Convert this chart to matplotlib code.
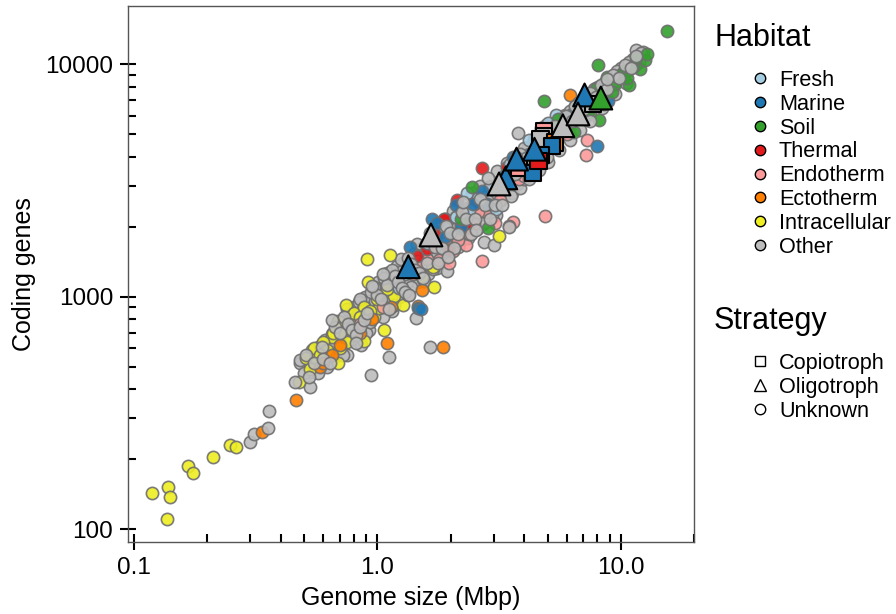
import matplotlib
matplotlib.use("Agg")
import matplotlib.pyplot as plt
from matplotlib.lines import Line2D

plt.rcParams["font.family"] = ["Liberation Sans", "DejaVu Sans"]

# === Data: genome size (Mbp) and coding genes, by habitat ===
intra_size = [0.119, 0.138, 0.141, 0.137, 0.166, 0.174, 0.211, 0.247, 0.263, 0.476,
              0.51, 0.557, 0.628, 0.65, 0.69, 0.687, 0.745, 0.83, 0.885, 0.91,
              0.916, 0.97, 1.02, 1.06, 1.13, 1.17, 1.28, 1.53, 1.70, 1.71,
              3.15, 0.55, 0.60, 0.72, 0.78, 0.80, 0.88, 0.62, 0.66, 0.75,
              0.58, 0.85, 1.00, 1.10, 0.93, 0.53, 0.70]
intra_genes = [143, 152, 137, 111, 187, 174, 204, 230, 225, 430,
               543, 543, 570, 671, 785, 516, 920, 780, 646, 1456,
               1150, 818, 891, 718, 1510, 1010, 917, 1217, 1336, 1097,
               1830, 600, 640, 700, 720, 850, 900, 590, 700, 640,
               560, 820, 980, 1080, 870, 490, 600]

ecto_size = [0.335, 0.465, 0.58, 1.09, 1.86, 1.52, 1.14, 1.47, 6.2, 8.5,
             0.70, 0.65, 0.85, 0.95, 0.60]
ecto_genes = [261, 358, 498, 632, 607, 1068, 899, 910, 7360, 6730,
              620, 560, 700, 800, 520]

endo_size = [2.70, 4.9, 3.6, 3.47, 2.31, 2.05, 3.03, 2.38, 1.79, 1.97,
             7.17, 7.27, 1.05, 1.33, 1.5, 1.7, 2.15, 2.5, 2.8, 3.2,
             3.8, 4.3, 5.2, 6.0, 1.2, 0.85, 1.4, 1.6, 1.9, 2.6,
             3.0, 4.0]
endo_genes = [1425, 2220, 2090, 2010, 1667, 1570, 2080, 1860, 1436, 1390,
              4060, 4710, 900, 1015, 1350, 1650, 1750, 2050, 2300, 2600,
              3200, 3600, 4400, 5000, 1120, 760, 1250, 1450, 1700, 2300,
              2450, 3300]

thermal_size = [1.90, 2.34, 2.13, 1.97, 2.70, 1.88, 4.92, 1.6, 2.5, 1.45,
                2.9, 3.4, 1.75, 2.2]
thermal_genes = [2148, 1977, 2600, 1580, 3555, 2165, 5470, 1600, 2500, 1500,
                 3000, 3600, 1900, 2300]

fresh_size = [1.14, 1.23, 2.34, 3.07, 2.38, 5.40, 6.2, 1.9, 2.6, 3.5,
              4.2, 4.7, 5.0, 2.1, 1.6, 2.9, 3.9, 1.3, 4.5]
fresh_genes = [1217, 1087, 2800, 2380, 2350, 6040, 5900, 1980, 2650, 3700,
               4700, 5300, 5600, 2200, 1700, 2950, 3500, 1250, 4000]

marine_size = [1.36, 1.68, 1.75, 2.10, 2.48, 2.83, 1.47, 1.51, 8.0, 8.9,
               3.9, 4.6, 2.2, 3.3, 4.2, 5.5, 6.3, 7.2, 2.7, 3.6,
               1.9, 5.9]
marine_genes = [1636, 2148, 2080, 2477, 2490, 2510, 890, 883, 4450, 6950,
                3550, 4950, 2000, 3300, 4100, 5200, 6100, 6000, 2850, 4000,
                1800, 5800]

soil_size = [15.5, 8.08, 4.85, 2.86, 2.45, 10.8, 12.0, 8.1, 7.5, 9.5,
             10.3, 11.2, 12.6, 8.8, 9.9, 7.9, 6.9, 6.0, 5.5, 7.3,
             10.6, 12.8, 11.6, 9.2, 8.4, 6.4, 2.2, 3.5]
soil_genes = [13900, 9950, 6950, 1980, 2967, 8130, 9560, 5750, 6150, 8200,
              9300, 9700, 10400, 8800, 9000, 7800, 6600, 5400, 5800, 6300,
              8700, 11000, 10600, 7600, 7000, 5100, 2150, 3300]

other_size = [0.30, 0.31, 0.354, 0.357, 0.53, 0.526, 0.53, 0.483, 0.59, 0.94,
              1.12, 1.64, 1.44, 1.93, 3.78, 2.73, 3.01, 3.47, 11.5, 12.3,
              0.46, 0.48, 0.50, 0.51, 0.53, 0.54, 0.55, 0.57, 0.58, 0.60,
              0.61, 0.62, 0.64, 0.65, 0.66, 0.67, 0.68, 0.69, 0.70, 0.71,
              0.72, 0.73, 0.74, 0.75, 0.76, 0.77, 0.78, 0.79, 0.80, 0.81,
              0.82, 0.83, 0.84, 0.85, 0.86, 0.87, 0.88, 0.89, 0.90, 0.91,
              0.92, 0.93, 0.94, 0.95, 0.96, 0.97, 0.98, 0.99, 1.00,
              1.01, 1.02, 1.03, 1.04, 1.05, 1.06, 1.07, 1.08, 1.09, 1.10,
              1.11, 1.12, 1.13, 1.14, 1.15, 1.16, 1.17, 1.18, 1.19, 1.20,
              1.22, 1.23, 1.24, 1.26, 1.27, 1.28, 1.30, 1.31, 1.32, 1.34,
              1.35, 1.37, 1.38, 1.40, 1.42, 1.43, 1.45, 1.46, 1.48,
              1.50, 1.52, 1.54, 1.56, 1.58, 1.60, 1.62, 1.64, 1.66, 1.68,
              1.70, 1.72, 1.74, 1.76, 1.78, 1.80, 1.82, 1.84, 1.87, 1.89,
              1.91, 1.93, 1.96, 1.98, 2.00, 2.03, 2.06, 2.08, 2.11, 2.14,
              2.17, 2.20,
              2.23, 2.26, 2.29, 2.32, 2.35, 2.38, 2.42, 2.45, 2.48, 2.52,
              2.56, 2.60, 2.64, 2.68, 2.72, 2.76, 2.80, 2.85, 2.90, 2.94,
              2.98, 3.03, 3.08, 3.12, 3.17, 3.22,
              3.27, 3.32, 3.38, 3.44, 3.50, 3.56, 3.62, 3.68, 3.74, 3.80,
              3.87, 3.94, 4.01, 4.08, 4.15, 4.22, 4.30, 4.38, 4.46, 4.54,
              4.62, 4.70, 4.79, 4.88, 4.97,
              5.06, 5.15, 5.25, 5.35, 5.45, 5.55, 5.65, 5.76, 5.87, 5.98,
              6.09, 6.20, 6.32, 6.44, 6.56, 6.68, 6.80, 6.93, 7.06, 7.19,
              7.32, 7.46, 7.60, 7.74, 7.88, 8.03,
              8.18, 8.33, 8.49, 8.65, 8.81, 8.97, 9.14, 9.31, 9.48, 9.66,
              9.84, 10.0, 10.2, 10.4, 10.6, 10.8, 11.0, 11.2, 11.4, 11.6,
              11.9, 12.1,
              1.05, 1.15, 1.25, 1.35, 1.45, 1.55, 1.65, 1.75, 1.85, 1.95,
              2.05, 2.15, 2.25, 2.35, 2.45, 2.55, 2.65, 2.75, 2.85, 2.95,
              3.10, 3.25, 3.40, 3.55, 3.70, 3.85, 4.00, 4.20, 4.40, 4.60,
              4.80, 5.00, 5.30, 5.60, 5.90, 6.20, 6.50, 6.80, 7.10, 7.50,
              7.90, 8.40, 8.80, 9.50, 10.5, 0.65, 0.75, 0.85, 0.95, 0.62,
              0.72, 0.82, 0.92]
other_genes = [237, 256, 272, 322, 408, 451, 473, 533, 607, 459,
               548, 607, 811, 1290, 5070, 1710, 1670, 2000, 11480, 11300,
               430, 520, 470, 560, 500, 590, 520, 470, 610, 540,
               650, 580, 520, 690, 600, 740, 640, 560, 700, 780,
               620, 820, 690, 560, 760, 860, 650, 720, 900, 780,
               680, 840, 950, 740, 620, 880, 790, 1000, 700, 850,
               960, 780, 1050, 900, 820, 1100, 960, 870, 1020,
               1150, 900, 980, 1080, 820, 1200, 1010, 940, 1120, 1260,
               1050, 880, 1180, 990, 1300, 1100, 920, 1230, 1060, 1350,
               1150, 1000, 1280, 1090, 1400, 1200, 1050, 1320, 1150, 1460,
               1250, 1100, 1380, 1200, 1530, 1300, 1150, 1420, 1260,
               1600, 1350, 1200, 1480, 1680, 1400, 1250, 1560, 1760, 1480,
               1320, 1640, 1840, 1540, 1400, 1720, 1930, 1620, 1460, 1800,
               2020, 1700, 1540, 1880, 2100, 1780, 1620, 1960, 2200, 1860,
               1700, 2050,
               2300, 1950, 1780, 2150, 2400, 2050, 1860, 2250, 2500, 2150,
               1950, 2360, 2620, 2250, 2050, 2480, 2750, 2360, 2150, 2600,
               2880, 2480, 2250, 2720, 3020, 2600,
               2700, 3150, 3550, 3000, 3500, 2800, 3800, 3350, 3050, 3700,
               4100, 3450, 3200, 3950, 4400, 3700, 3450, 4200, 4700, 3950,
               3700, 4500, 5000, 4250, 4000,
               4500, 5100, 4700, 5400, 4900, 5600, 5100, 5800, 5300, 6000,
               5500, 6300, 5700, 6500, 5900, 6800, 6100, 7000, 6400, 7200,
               6700, 7500, 6900, 7800, 7200, 8000,
               7200, 8100, 7500, 8400, 7800, 8700, 8100, 9000, 8400, 9300,
               8700, 9600, 9000, 9900, 9300, 10200, 9600, 10500, 9900, 10800,
               10200, 11100,
               1250, 870, 1450, 1020, 1680, 1170, 1880, 1330, 2100, 1480,
               2330, 1630, 2550, 1790, 2780, 1940, 3000, 2090, 3230, 2240,
               3480, 2470, 3750, 2700, 4000, 2930, 4350, 3200, 4750, 3500,
               5050, 3800, 5500, 4250, 6050, 4700, 6600, 5200, 7150, 5700,
               7900, 6500, 8600, 7400, 8300, 790, 880, 980, 1110, 500,
               560, 630, 720]

# Oligotroph (triangles) and copiotroph (squares) genomes
olig_habitat = ["Marine", "Marine", "Marine", "Marine", "Marine",
                "Other", "Other", "Other", "Other", "Soil"]
olig_size = [1.34, 3.37, 3.73, 4.42, 7.1, 1.66, 3.16, 5.78, 6.67, 8.28]
olig_genes = [1343, 3240, 3900, 4300, 7360, 1840, 3050, 5430, 6100, 7140]

copio_habitat = ["Endotherm", "Endotherm", "Other", "Other", "Other",
                 "Ectotherm", "Marine", "Marine", "Marine", "Thermal"]
copio_size = [3.82, 4.83, 4.85, 4.68, 7.7, 5.35, 5.2, 4.7, 4.35, 4.59]
copio_genes = [3570, 5150, 4900, 4750, 6750, 4600, 4450, 4050, 3400, 3830]

habitats = ["Fresh", "Marine", "Soil", "Thermal", "Endotherm", "Ectotherm",
            "Intracellular", "Other"]
colors = {"Fresh": "#a6cee3", "Marine": "#1f78b4", "Soil": "#33a02c",
          "Thermal": "#e31a1c", "Endotherm": "#fb9a99", "Ectotherm": "#ff7f00",
          "Intracellular": "#eeee22", "Other": "#bdbdbd"}

# grey genomes: two thirds under the coloured ones, one third over them
circles = [("Other", other_size[::3], other_genes[::3]),
           ("Other", other_size[1::3], other_genes[1::3]),
           ("Intracellular", intra_size, intra_genes),
           ("Ectotherm", ecto_size, ecto_genes),
           ("Endotherm", endo_size, endo_genes),
           ("Thermal", thermal_size, thermal_genes),
           ("Fresh", fresh_size, fresh_genes),
           ("Marine", marine_size, marine_genes),
           ("Soil", soil_size, soil_genes),
           ("Other", other_size[2::3], other_genes[2::3])]

# === Plot ===
fig = plt.figure(figsize=(8.96, 6.14), dpi=100)
ax = fig.add_axes([0.1429, 0.1173, 0.6317, 0.873])

for name, xs, ys in circles:
    ax.scatter(xs, ys, s=78, c=colors[name], edgecolors="#6e6e6e",
               linewidths=1.2, alpha=0.9, zorder=2)

ax.scatter(copio_size, copio_genes, s=135, marker="s",
           c=[colors[h] for h in copio_habitat], edgecolors="black",
           linewidths=1.5, zorder=3)
ax.scatter(olig_size, olig_genes, s=270, marker="^",
           c=[colors[h] for h in olig_habitat], edgecolors="black",
           linewidths=1.5, zorder=4)

ax.set_xscale("log")
ax.set_yscale("log")
ax.set_xlim(0.0945, 20)
ax.set_ylim(88, 17770)
ax.set_xticks([0.1, 1, 10])
ax.set_xticklabels(["0.1", "1.0", "10.0"])
ax.set_xticks([0.2, 0.3, 0.4, 0.5, 0.6, 0.7, 0.8, 0.9,
               2, 3, 4, 5, 6, 7, 8, 9, 20], minor=True)
ax.set_yticks([100, 1000, 10000])
ax.set_yticklabels(["100", "1000", "10000"])
ax.set_yticks([200, 300, 400, 500, 600, 700, 800, 900,
               2000, 3000, 4000, 5000, 6000, 7000, 8000, 9000], minor=True)
ax.tick_params(which="major", direction="inout", length=11.5, width=1.5,
               pad=5, labelsize=17.5)
ax.tick_params(which="minor", direction="in", length=6, width=1.5)
ax.xaxis.set_minor_formatter(plt.NullFormatter())
ax.yaxis.set_minor_formatter(plt.NullFormatter())
for sp in ax.spines.values():
    sp.set_color("#555555")
    sp.set_linewidth(1.0)

ax.set_xlabel("Genome size (Mbp)", fontsize=18, labelpad=5)
ax.set_ylabel("Coding genes", fontsize=18)
ax.yaxis.set_label_coords(-0.163, 0.5)

# === Legends ===
fig.text(714 / 896, 1 - 38 / 614, "Habitat", fontsize=22, va="center", ha="left")
hab_handles = [Line2D([], [], marker="o", ls="", markersize=7.5,
                      markerfacecolor=colors[h], markeredgecolor="black",
                      markeredgewidth=1.0) for h in habitats]
fig.legend(hab_handles, habitats, loc="upper left",
           bbox_to_anchor=(749 / 896, 1 - 70 / 614), frameon=False,
           fontsize=15.6, borderpad=0, borderaxespad=0, handlelength=1.0,
           handletextpad=0.38, labelspacing=0.13)

fig.text(714 / 896, 1 - 321 / 614, "Strategy", fontsize=22, va="center", ha="left")
strat_labels = ["Copiotroph", "Oligotroph", "Unknown"]
strat_handles = [Line2D([], [], marker=m, ls="", markersize=sz,
                        markerfacecolor="white", markeredgecolor="black",
                        markeredgewidth=1.0)
                 for m, sz in zip(["s", "^", "o"], [7, 9, 7.5])]
fig.legend(strat_handles, strat_labels, loc="upper left",
           bbox_to_anchor=(749 / 896, 1 - 353 / 614), frameon=False,
           fontsize=15.6, borderpad=0, borderaxespad=0, handlelength=1.0,
           handletextpad=0.38, labelspacing=0.13)

fig.savefig("out.png", dpi=100)
